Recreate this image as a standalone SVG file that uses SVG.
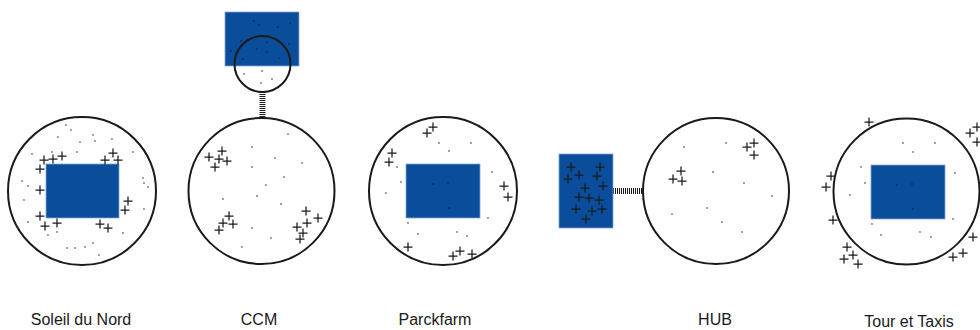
<svg xmlns="http://www.w3.org/2000/svg" xmlns:xlink="http://www.w3.org/1999/xlink" width="980" height="330" viewBox="0 0 980 330">
<style>
.ring{fill:none;stroke:#1a1a1a;stroke-width:2}
.blk{fill:#0a4e9b;stroke:#7fa6d6;stroke-width:0.8}
.d{fill:#777}
.dk{fill:#1b2a44}
.x{stroke:#1a1a1a;stroke-width:1.25;fill:none}
.hatch{stroke:#1a1a1a;stroke-width:6;stroke-dasharray:1 1;fill:none}
.lbl{font-family:"Liberation Sans",Arial,sans-serif;font-size:16px;fill:#1a1a1a;text-anchor:middle}
</style>
<defs>
<path id="p" class="x" d="M-4.5,0H4.5M0,-4.5V4.5"/>
</defs>
<rect width="980" height="330" fill="#fff"/>
<g id="connectors">
<line class="hatch" x1="262.5" y1="92" x2="262.5" y2="118"/>
<line class="hatch" x1="613" y1="191" x2="643" y2="191"/>
</g>
<g id="soleil-du-nord">
<rect class="blk" x="46" y="164" width="73" height="54"/>
<circle class="ring" cx="82" cy="191" r="74"/>
<g class="d">
<circle cx="66" cy="125" r="0.9"/><circle cx="71" cy="130" r="0.9"/><circle cx="58" cy="137" r="0.9"/><circle cx="80" cy="142" r="0.9"/><circle cx="93" cy="135" r="0.9"/><circle cx="95" cy="141" r="0.9"/><circle cx="112" cy="139" r="0.9"/><circle cx="32" cy="154" r="0.9"/><circle cx="77" cy="152" r="0.9"/><circle cx="52" cy="152" r="0.9"/><circle cx="133" cy="152" r="0.9"/><circle cx="22" cy="181" r="0.9"/><circle cx="28" cy="186" r="0.9"/><circle cx="24" cy="200" r="0.9"/><circle cx="143" cy="178" r="0.9"/><circle cx="144" cy="183" r="0.9"/><circle cx="148" cy="187" r="0.9"/><circle cx="144" cy="209" r="0.9"/><circle cx="28" cy="222" r="0.9"/><circle cx="48" cy="235" r="0.9"/><circle cx="57" cy="232" r="0.9"/><circle cx="123" cy="233" r="0.9"/><circle cx="67" cy="248" r="0.9"/><circle cx="75" cy="248" r="0.9"/><circle cx="85" cy="247" r="0.9"/><circle cx="93" cy="243" r="0.9"/><circle cx="99" cy="255" r="0.9"/>
</g>
<use href="#p" x="44" y="160"/><use href="#p" x="53" y="159"/><use href="#p" x="62" y="156"/><use href="#p" x="40" y="169"/><use href="#p" x="40" y="190"/><use href="#p" x="40" y="216"/><use href="#p" x="45" y="226"/><use href="#p" x="57" y="223"/><use href="#p" x="105" y="160"/><use href="#p" x="113" y="153"/><use href="#p" x="118" y="160"/><use href="#p" x="128" y="201"/><use href="#p" x="125" y="210"/><use href="#p" x="100" y="224"/><use href="#p" x="108" y="228"/>
<text class="lbl" x="81" y="325">Soleil du Nord</text>
</g>
<g id="ccm">
<rect class="blk" x="225" y="12" width="74" height="54"/>
<g class="dk">
<circle cx="254" cy="21" r="0.9"/><circle cx="259" cy="25" r="0.9"/><circle cx="290" cy="23" r="0.9"/><circle cx="278" cy="27" r="0.9"/><circle cx="241" cy="41" r="0.9"/><circle cx="267" cy="42" r="0.9"/><circle cx="289" cy="44" r="0.9"/><circle cx="231" cy="51" r="0.9"/><circle cx="257" cy="49" r="0.9"/><circle cx="267" cy="52" r="0.9"/><circle cx="243" cy="59" r="0.9"/><circle cx="279" cy="58" r="0.9"/>
</g>
<g class="d">
<circle cx="244" cy="74" r="0.9"/><circle cx="262" cy="71" r="0.9"/><circle cx="272" cy="79" r="0.9"/><circle cx="261" cy="83" r="0.9"/>
</g>
<circle class="ring" cx="262.5" cy="64" r="28"/>
<circle class="ring" cx="261.5" cy="191" r="73"/>
<g class="d">
<circle cx="288" cy="134" r="0.9"/><circle cx="252" cy="147" r="0.9"/><circle cx="275" cy="158" r="0.9"/><circle cx="302" cy="163" r="0.9"/><circle cx="252" cy="167" r="0.9"/><circle cx="284" cy="177" r="0.9"/><circle cx="266" cy="185" r="0.9"/><circle cx="257" cy="196" r="0.9"/><circle cx="223" cy="199" r="0.9"/><circle cx="281" cy="204" r="0.9"/><circle cx="252" cy="228" r="0.9"/><circle cx="271" cy="238" r="0.9"/><circle cx="242" cy="247" r="0.9"/>
</g>
<use href="#p" x="209" y="157"/><use href="#p" x="222" y="151"/><use href="#p" x="219" y="159"/><use href="#p" x="227" y="161"/><use href="#p" x="215" y="167"/><use href="#p" x="229" y="216"/><use href="#p" x="223" y="223"/><use href="#p" x="233" y="224"/><use href="#p" x="219" y="230"/><use href="#p" x="306" y="211"/><use href="#p" x="318" y="218"/><use href="#p" x="307" y="223"/><use href="#p" x="297" y="227"/><use href="#p" x="303" y="233"/><use href="#p" x="300" y="239"/>
<text class="lbl" x="259" y="325">CCM</text>
</g>
<g id="parckfarm">
<rect class="blk" x="406" y="164" width="74" height="54"/>
<circle class="ring" cx="443" cy="191" r="74"/>
<g class="d">
<circle cx="439" cy="143" r="0.9"/><circle cx="471" cy="143" r="0.9"/><circle cx="449" cy="151" r="0.9"/><circle cx="397" cy="167" r="0.9"/><circle cx="492" cy="172" r="0.9"/><circle cx="401" cy="182" r="0.9"/><circle cx="386" cy="193" r="0.9"/><circle cx="488" cy="218" r="0.9"/><circle cx="408" cy="223" r="0.9"/><circle cx="418" cy="234" r="0.9"/><circle cx="457" cy="232" r="0.9"/><circle cx="467" cy="236" r="0.9"/>
</g>
<g class="dk">
<circle cx="433" cy="184" r="0.9"/><circle cx="448" cy="183" r="0.9"/><circle cx="449" cy="208" r="0.9"/>
</g>
<use href="#p" x="427" y="133"/><use href="#p" x="433" y="127"/><use href="#p" x="392" y="153"/><use href="#p" x="389" y="162"/><use href="#p" x="504" y="186"/><use href="#p" x="508" y="197"/><use href="#p" x="408" y="247"/><use href="#p" x="453" y="256"/><use href="#p" x="460" y="251"/><use href="#p" x="472" y="254"/>
<text class="lbl" x="435" y="325">Parckfarm</text>
</g>
<g id="hub">
<rect class="blk" x="559" y="154" width="54" height="74"/>
<use href="#p" x="571" y="167"/><use href="#p" x="568" y="179"/><use href="#p" x="579" y="175"/><use href="#p" x="600" y="167"/><use href="#p" x="597" y="176"/><use href="#p" x="603" y="186"/><use href="#p" x="585" y="188"/><use href="#p" x="579" y="197"/><use href="#p" x="589" y="198"/><use href="#p" x="599" y="200"/><use href="#p" x="576" y="209"/><use href="#p" x="592" y="211"/><use href="#p" x="602" y="209"/><use href="#p" x="586" y="219"/>
<circle class="ring" cx="716" cy="191" r="73"/>
<g class="d">
<circle cx="684" cy="147" r="0.9"/><circle cx="726" cy="143" r="0.9"/><circle cx="713" cy="172" r="0.9"/><circle cx="744" cy="183" r="0.9"/><circle cx="772" cy="196" r="0.9"/><circle cx="707" cy="208" r="0.9"/><circle cx="672" cy="214" r="0.9"/><circle cx="722" cy="222" r="0.9"/><circle cx="742" cy="232" r="0.9"/>
</g>
<use href="#p" x="747" y="147"/><use href="#p" x="754" y="143"/><use href="#p" x="754" y="155"/><use href="#p" x="681" y="171"/><use href="#p" x="673" y="179"/><use href="#p" x="682" y="181"/>
<text class="lbl" x="715" y="325">HUB</text>
</g>
<g id="tour-et-taxis">
<rect class="blk" x="871" y="165" width="74" height="54"/>
<circle class="ring" cx="906.5" cy="191.5" r="73"/>
<g class="d">
<circle cx="903" cy="143" r="0.9"/><circle cx="935" cy="143" r="0.9"/><circle cx="913" cy="152" r="0.9"/><circle cx="861" cy="167" r="0.9"/><circle cx="955" cy="173" r="0.9"/><circle cx="865" cy="183" r="0.9"/><circle cx="850" cy="195" r="0.9"/><circle cx="953" cy="219" r="0.9"/><circle cx="872" cy="224" r="0.9"/><circle cx="881" cy="235" r="0.9"/><circle cx="920" cy="232" r="0.9"/><circle cx="931" cy="237" r="0.9"/>
</g>
<g class="dk">
<circle cx="897" cy="185" r="0.9"/><circle cx="912" cy="184" r="0.9"/><circle cx="913" cy="209" r="0.9"/>
</g>
<use href="#p" x="869" y="122"/><use href="#p" x="970" y="133"/><use href="#p" x="977" y="127"/><use href="#p" x="977" y="142"/><use href="#p" x="831" y="176"/><use href="#p" x="826" y="187"/><use href="#p" x="833" y="220"/><use href="#p" x="973" y="237"/><use href="#p" x="847" y="247"/><use href="#p" x="853" y="255"/><use href="#p" x="844" y="259"/><use href="#p" x="858" y="264"/><use href="#p" x="953" y="257"/><use href="#p" x="963" y="253"/>
<text class="lbl" x="909" y="326.5">Tour et Taxis</text>
</g>
</svg>
